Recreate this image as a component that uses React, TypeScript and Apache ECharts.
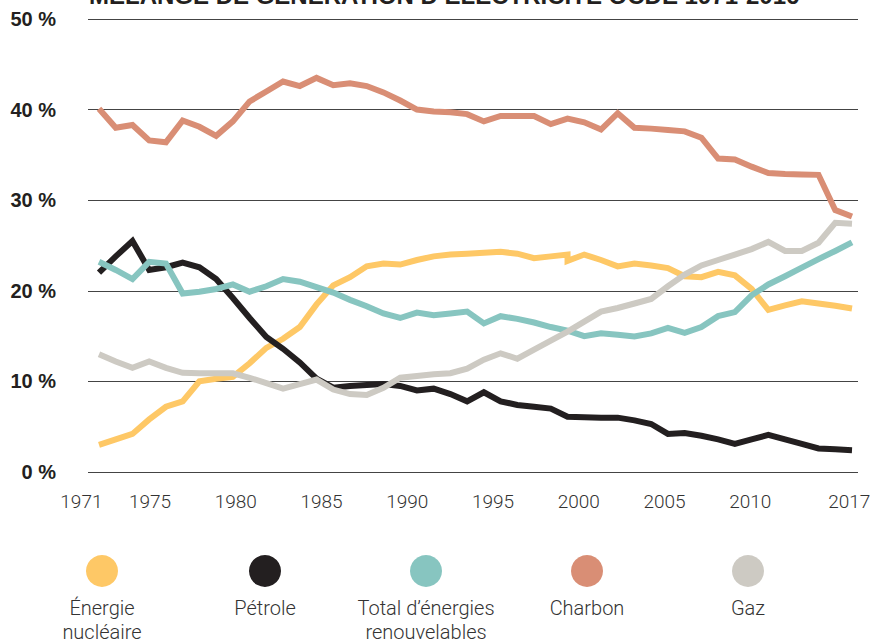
import React, { useEffect, useRef } from "react";
import * as echarts from "echarts";

const years = [
  1971, 1972, 1973, 1974, 1975, 1976, 1977, 1978, 1979, 1980,
  1981, 1982, 1983, 1984, 1985, 1986, 1987, 1988, 1989, 1990,
  1991, 1992, 1993, 1994, 1995, 1996, 1997, 1998, 1999, 2000,
  2001, 2002, 2003, 2004, 2005, 2006, 2007, 2008, 2009, 2010,
  2011, 2012, 2013, 2014, 2015, 2016,
];

const nuclear = [
  3.0, 3.6, 4.2, 5.8, 7.2, 7.8, 10.0, 10.3, 10.5, 12.0,
  13.7, 14.7, 16.0, 18.5, 20.6, 21.5, 22.7, 23.0, 22.9, 23.4,
  23.8, 24.0, 24.1, 24.2, 24.3, 24.1, 23.6, 23.8, 24.0, 24.0,
  23.4, 22.7, 23.0, 22.8, 22.5, 21.6, 21.5, 22.1, 21.7, 20.2,
  17.9, 18.4, 18.85, 18.6, 18.35, 18.05,
];
// break in the nuclear series (series restarts lower in that year)
const nuclearStep = { year: 1999, value: 23.3 };

const oil = [
  22.0, 23.8, 25.5, 22.3, 22.6, 23.1, 22.6, 21.3, 19.2, 17.0,
  14.9, 13.6, 12.1, 10.3, 9.3, 9.5, 9.6, 9.7, 9.5, 9.0,
  9.2, 8.6, 7.8, 8.8, 7.8, 7.4, 7.2, 7.0, 6.1, 6.05,
  6.0, 6.0, 5.7, 5.3, 4.2, 4.3, 4.0, 3.6, 3.1, 3.6,
  4.1, 3.6, 3.1, 2.6, 2.5, 2.4,
];

const renewables = [
  23.2, 22.3, 21.3, 23.2, 23.0, 19.7, 19.9, 20.2, 20.7, 19.9,
  20.5, 21.3, 21.0, 20.4, 19.8, 19.0, 18.3, 17.5, 17.0, 17.6,
  17.3, 17.5, 17.7, 16.4, 17.2, 16.9, 16.5, 16.0, 15.6, 15.0,
  15.3, 15.15, 14.95, 15.3, 15.9, 15.35, 16.0, 17.2, 17.65, 19.5,
  20.7, 21.6, 22.55, 23.5, 24.4, 25.35,
];

const coal = [
  40.1, 38.0, 38.3, 36.6, 36.4, 38.8, 38.1, 37.1, 38.7, 40.9,
  42.0, 43.1, 42.6, 43.5, 42.7, 42.9, 42.6, 41.9, 41.0, 40.0,
  39.8, 39.7, 39.5, 38.7, 39.3, 39.3, 39.3, 38.4, 39.0, 38.6,
  37.8, 39.6, 38.0, 37.9, 37.75, 37.6, 36.9, 34.6, 34.5, 33.7,
  33.0, 32.9, 32.85, 32.8, 28.9, 28.2,
];

const gas = [
  13.0, 12.2, 11.5, 12.2, 11.5, 10.95, 10.9, 10.9, 10.9, 10.4,
  9.8, 9.2, 9.7, 10.2, 9.1, 8.6, 8.5, 9.3, 10.4, 10.6,
  10.8, 10.9, 11.4, 12.4, 13.1, 12.5, 13.5, 14.5, 15.5, 16.6,
  17.7, 18.1, 18.6, 19.1, 20.5, 21.8, 22.8, 23.4, 24.0, 24.6,
  25.4, 24.4, 24.4, 25.3, 27.5, 27.4,
];

const xTickLabels = [1971, 1975, 1980, 1985, 1990, 1995, 2000, 2005, 2010, 2017];
const yTicks = [0, 10, 20, 30, 40, 50];

const seriesNames = [
  "Énergie nucléaire",
  "Pétrole",
  "Total d’énergies renouvelables",
  "Charbon",
  "Gaz",
];
const legendLabels = [
  "Énergie\nnucléaire",
  "Pétrole",
  "Total d’énergies\nrenouvelables",
  "Charbon",
  "Gaz",
];
const colors = ["#FEC866", "#231F20", "#87C5C0", "#D98E75", "#CDCAC3"];

const title = "MÉLANGE DE GÉNÉRATION D’ÉLECTRICITÉ OCDE 1971-2016";

function pairs(values: number[], step?: { year: number; value: number }) {
  const out: number[][] = [];
  years.forEach((y, i) => {
    out.push([y, values[i]]);
    if (step && step.year === y) out.push([y, step.value]);
  });
  return out;
}

export default function App() {
  const ref = useRef<HTMLDivElement>(null);

  useEffect(() => {
    if (!ref.current) return;
    const chart = echarts.init(ref.current, undefined, { renderer: "svg" });

    const allValues = [nuclear, oil, renewables, coal, gas];
    const legendX = [102, 265, 426, 587, 748];

    const series = allValues.map((vals, i) => ({
      name: seriesNames[i],
      type: "line",
      xAxisIndex: 0,
      yAxisIndex: 0,
      data: pairs(vals, i === 0 ? nuclearStep : undefined),
      showSymbol: false,
      symbol: "none",
      silent: true,
      lineStyle: { width: 6, color: colors[i], cap: "butt", join: "miter" },
      itemStyle: { color: colors[i] },
    }));

    const graphic: any[] = [
      {
        type: "text",
        x: 89,
        y: -5,
        style: {
          text: title,
          font: 'bold 24px "Liberation Sans", Arial, sans-serif',
          fill: "#231F20",
          align: "left",
          verticalAlign: "middle",
        },
      },
    ];
    legendLabels.forEach((lab, i) => {
      graphic.push({
        type: "circle",
        shape: { cx: legendX[i], cy: 571, r: 16 },
        style: { fill: colors[i] },
      });
      graphic.push({
        type: "text",
        x: legendX[i],
        y: 596,
        style: {
          text: lab,
          font: '300 20px Roboto, "Liberation Sans", sans-serif',
          fill: "#333",
          align: "center",
          verticalAlign: "top",
          lineHeight: 24,
        },
      });
    });

    chart.setOption({
      animation: false,
      grid: [
        { left: 88, right: 17, top: 19, bottom: 168 },
        { left: 81.4, right: 4.6, top: 19, bottom: 168 },
      ],
      xAxis: [
        {
          type: "value",
          gridIndex: 0,
          min: 1970.3426,
          max: 2016.3586,
          show: false,
        },
        {
          type: "value",
          gridIndex: 1,
          min: 1971,
          max: 2017,
          axisLine: { show: false },
          axisTick: { show: false },
          splitLine: { show: false },
          axisLabel: {
            customValues: xTickLabels,
            formatter: (v: number) => String(v),
            margin: 20,
            fontSize: 19,
            fontFamily: "Roboto, 'Liberation Sans', sans-serif",
            fontWeight: 300,
            color: "#333",
            alignMaxLabel: "right",
          },
        },
      ],
      yAxis: [
        {
          type: "value",
          gridIndex: 0,
          min: yTicks[0],
          max: yTicks[yTicks.length - 1],
          interval: 10,
          axisLine: { show: false },
          axisTick: { show: false },
          splitLine: { lineStyle: { color: "#444", width: 1 } },
          axisLabel: {
            formatter: (v: number) => `${v} %`,
            margin: 32,
            fontSize: 20,
            fontWeight: "bold",
            fontFamily: "'Liberation Sans', Arial, sans-serif",
            color: "#231F20",
          },
        },
        { type: "value", gridIndex: 1, show: false, min: 0, max: 50 },
      ],
      series,
      graphic,
    });

    return () => chart.dispose();
  }, []);

  return (
    <div
      ref={ref}
      style={{ position: "absolute", left: 0, top: 0, width: 875, height: 640, background: "#fff" }}
    />
  );
}
